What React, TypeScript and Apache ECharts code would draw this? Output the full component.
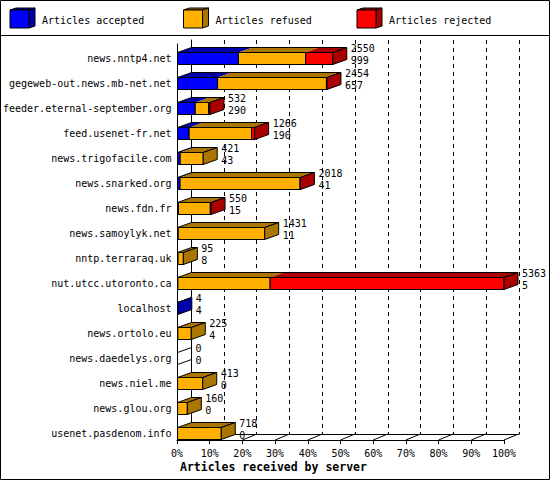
import React, { useEffect, useRef } from "react";
import * as echarts from "echarts";

const CATEGORIES = [
  "news.nntp4.net",
  "gegeweb-out.news.mb-net.net",
  "feeder.eternal-september.org",
  "feed.usenet-fr.net",
  "news.trigofacile.com",
  "news.snarked.org",
  "news.fdn.fr",
  "news.samoylyk.net",
  "nntp.terraraq.uk",
  "nut.utcc.utoronto.ca",
  "localhost",
  "news.ortolo.eu",
  "news.daedelys.org",
  "news.niel.me",
  "news.glou.org",
  "usenet.pasdenom.info",
];
const TOTAL = [2550, 2454, 532, 1266, 421, 2018, 550, 1431, 95, 5363, 4, 225, 0, 413, 160, 718];
const ACCEPTED = [999, 657, 290, 190, 43, 41, 15, 11, 8, 5, 4, 4, 0, 0, 0, 0];
const REFUSED = [1105, 1789, 220, 1026, 378, 1971, 523, 1420, 87, 1515, 0, 221, 0, 413, 160, 718];
const REJECTED = [446, 8, 22, 50, 0, 6, 12, 0, 0, 3843, 0, 0, 0, 0, 0, 0];

const SERIES_NAMES = ["Articles accepted", "Articles refused", "Articles rejected"];
const FRONT_COLORS = ["#0000ff", "#ffb000", "#ff0000"];
const DARK_COLORS = ["#0000aa", "#aa7600", "#aa0000"];
const PERCENT_TICKS = [0, 10, 20, 30, 40, 50, 60, 70, 80, 90, 100];
const X_TITLE = "Articles received by server";

const FONT = "'DejaVu Sans Mono', 'Liberation Mono', monospace";

export default function App() {
  const ref = useRef<HTMLDivElement>(null);

  useEffect(() => {
    if (!ref.current) return;
    const chart = echarts.init(ref.current, undefined, { renderer: "svg" });
    const maxTotal = Math.max(...TOTAL);
    const DX = 14;
    const DY = 5;
    const HH = 6;

    const barData = CATEGORIES.map((_, i) => [i, ACCEPTED[i], REFUSED[i], REJECTED[i], TOTAL[i]]);

    const legendGraphics: any[] = [];
    SERIES_NAMES.forEach((name, k) => {
      const x = 10 + k * 173.5;
      const y = 10;
      const w = 19;
      const h = 18;
      legendGraphics.push({
        type: "polygon",
        shape: { points: [[x, y], [x + 6, y - 2], [x + w + 6, y - 2], [x + w, y]] },
        style: { fill: DARK_COLORS[k], stroke: "#000", lineWidth: 1 },
      });
      legendGraphics.push({
        type: "polygon",
        shape: { points: [[x + w, y], [x + w + 6, y - 2], [x + w + 6, y + h - 2], [x + w, y + h]] },
        style: { fill: DARK_COLORS[k], stroke: "#000", lineWidth: 1 },
      });
      legendGraphics.push({
        type: "rect",
        shape: { x, y, width: w, height: h },
        style: { fill: FRONT_COLORS[k], stroke: "#000", lineWidth: 1 },
      });
      legendGraphics.push({
        type: "text",
        x: x + 32,
        y: 20,
        style: { text: name, font: `10px ${FONT}`, fill: "#000", textVerticalAlign: "middle", verticalAlign: "middle" },
      });
    });

    const option: any = {
      animation: false,
      backgroundColor: "#fff",
      graphic: [
        {
          type: "rect",
          shape: { x: 0.5, y: 0.5, width: 549, height: 479 },
          style: { fill: "none", stroke: "#000", lineWidth: 1 },
          z: 100,
        },
        {
          type: "line",
          shape: { x1: 0, y1: 35.5, x2: 550, y2: 35.5 },
          style: { stroke: "#000", lineWidth: 1 },
        },
        ...legendGraphics,
        {
          type: "text",
          x: 180,
          y: 467,
          style: {
            text: X_TITLE,
            font: `bold 11.5px ${FONT}`,
            fill: "#000",
            textVerticalAlign: "middle",
            verticalAlign: "middle",
          },
        },
      ],
      grid: [
        { left: 177, right: 46, top: 44, bottom: 40 },
        { left: 177, right: 46, top: 46, bottom: 34 },
        { left: 191, right: 31, top: 40, bottom: 46 },
      ],
      xAxis: [
        {
          gridIndex: 0,
          type: "value",
          min: 0,
          max: 100,
          interval: 10,
          axisLine: { show: true, lineStyle: { color: "#000", width: 1 } },
          axisTick: { show: true, length: 4, inside: false, lineStyle: { color: "#000" } },
          axisLabel: {
            formatter: "{value}%",
            color: "#000",
            fontFamily: FONT,
            fontSize: 10,
            margin: 8,
            showMinLabel: true,
            showMaxLabel: true,
          },
          splitLine: { show: false },
        },
        {
          gridIndex: 1,
          type: "value",
          min: 0,
          max: maxTotal,
          show: false,
        },
        {
          gridIndex: 2,
          type: "value",
          min: 0,
          max: 100,
          interval: 10,
          axisLine: { show: true, lineStyle: { color: "#000", width: 1 } },
          axisTick: { show: false },
          axisLabel: { show: false },
          splitLine: { show: true, showMinLine: true, showMaxLine: true, lineStyle: { color: "#000", type: [4, 4], width: 1 } },
        },
      ],
      yAxis: [
        {
          gridIndex: 0,
          type: "value",
          min: 0,
          max: 1,
          axisLine: { show: true, lineStyle: { color: "#000", width: 1 } },
          axisTick: { show: false },
          axisLabel: { show: false },
          splitLine: { show: false },
        },
        {
          gridIndex: 1,
          type: "category",
          data: CATEGORIES,
          inverse: true,
          axisLine: { show: false },
          axisTick: { show: false },
          axisLabel: { color: "#000", fontFamily: FONT, fontSize: 10, margin: 6, interval: 0 },
          splitLine: { show: false },
        },
        {
          gridIndex: 2,
          type: "value",
          min: 0,
          max: 1,
          position: "right",
          axisLine: { show: true, lineStyle: { color: "#000", width: 1 } },
          axisTick: { show: false },
          axisLabel: { show: false },
          splitLine: { show: false },
        },
      ],
      series: [
        {
          type: "custom",
          xAxisIndex: 0,
          yAxisIndex: 0,
          data: PERCENT_TICKS.map((v) => [v, 0]),
          z: 3,
          renderItem: (params: any, api: any) => {
            const p = api.coord([api.value(0), 0]);
            return {
              type: "line",
              shape: { x1: p[0], y1: p[1], x2: p[0] + DX + 0.5, y2: p[1] - 6 },
              style: { stroke: "#000", lineWidth: 1 },
            };
          },
        },
        {
          type: "custom",
          xAxisIndex: 1,
          yAxisIndex: 1,
          data: barData,
          encode: { x: [1, 2, 3, 4], y: 0 },
          z: 5,
          renderItem: (params: any, api: any) => {
            const i = api.value(0);
            const segs = [api.value(1), api.value(2), api.value(3)];
            const total = api.value(4);
            const base = api.coord([0, i]);
            const x0 = base[0];
            const y = base[1];
            const tops: any[] = [];
            const fronts: any[] = [];
            let cum = 0;
            let last = -1;
            for (let k = 0; k < 3; k++) {
              if (segs[k] > 0) {
                const xs = api.coord([cum, i])[0];
                cum += segs[k];
                const xe = api.coord([cum, i])[0];
                tops.push({
                  type: "polygon",
                  shape: { points: [[xs, y - HH], [xs + DX, y - HH - DY], [xe + DX, y - HH - DY], [xe, y - HH]] },
                  style: { fill: DARK_COLORS[k], stroke: null },
                });
                fronts.push({
                  type: "rect",
                  shape: { x: xs, y: y - HH, width: xe - xs, height: 2 * HH },
                  style: { fill: FRONT_COLORS[k], stroke: "#000", lineWidth: 1 },
                });
                last = k;
              }
            }
            const xt = api.coord([total, i])[0];
            const children: any[] = [...tops];
            if (total > 0) {
              children.push({
                type: "polygon",
                shape: { points: [[x0, y - HH], [x0 + DX, y - HH - DY], [xt + DX, y - HH - DY], [xt, y - HH]] },
                style: { fill: "none", stroke: "#000", lineWidth: 1 },
              });
              children.push(...fronts);
              children.push({
                type: "polygon",
                shape: { points: [[xt, y - HH], [xt + DX, y - HH - DY], [xt + DX, y + HH - DY], [xt, y + HH]] },
                style: { fill: DARK_COLORS[last], stroke: "#000", lineWidth: 1 },
              });
            } else {
              children.push({
                type: "line",
                shape: { x1: x0, y1: y - HH, x2: x0 + DX, y2: y - HH - DY },
                style: { stroke: "#000", lineWidth: 1 },
              });
              children.push({
                type: "line",
                shape: { x1: x0, y1: y + HH, x2: x0 + DX, y2: y + HH - DY },
                style: { stroke: "#000", lineWidth: 1 },
              });
            }
            const lx = xt + DX + 4;
            children.push({
              type: "text",
              style: {
                text: String(total),
                x: lx,
                y: y - 10,
                fill: "#000",
                font: `10px ${FONT}`,
                textAlign: "left",
                textVerticalAlign: "middle",
                align: "left",
                verticalAlign: "middle",
              },
            });
            children.push({
              type: "text",
              style: {
                text: String(segs[0]),
                x: lx,
                y: y + 1.5,
                fill: "#000",
                font: `10px ${FONT}`,
                textAlign: "left",
                textVerticalAlign: "middle",
                align: "left",
                verticalAlign: "middle",
              },
            });
            return { type: "group", children };
          },
        },
      ],
    };

    chart.setOption(option);
    return () => {
      chart.dispose();
    };
  }, []);

  return (
    <div
      ref={ref}
      style={{ position: "absolute", left: 0, top: 0, width: 550, height: 480, background: "#fff" }}
    />
  );
}
